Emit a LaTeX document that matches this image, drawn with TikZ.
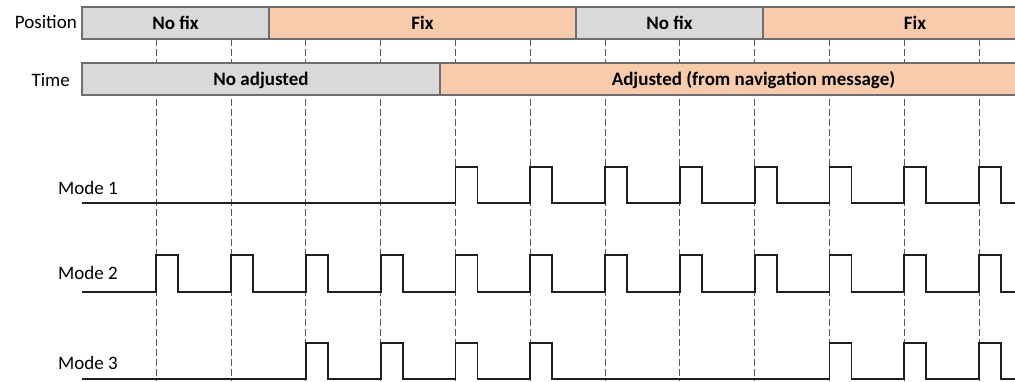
\documentclass[tikz,border=0pt]{standalone}
\usepackage{fontspec}
\setmainfont{Carlito}
\usetikzlibrary{positioning}
\definecolor{barGrey}{HTML}{D9D9D9}
\definecolor{barOrange}{HTML}{F8CBAD}
\definecolor{barEdge}{HTML}{6E6E6E}

\begin{document}
\begin{tikzpicture}
    [
        x=1pt, y=-1pt, font=\fontsize{19}{22}\selectfont,
        grey_bar/.style={rectangle, draw=barEdge, fill=barGrey, line width=1.3pt, outer sep=0pt, minimum height=32pt, text height=12.3pt, text depth=0pt, font=\fontsize{19}{22}\selectfont\bfseries},
        orange_bar/.style={grey_bar, fill=barOrange},
        row_label/.style={inner sep=0pt, anchor=base east},
        mode_label/.style={inner sep=0pt, anchor=base west},
        tick_line/.style={dash pattern=on 6.5pt off 3.5pt, color=black!65, line width=1pt},
        signal/.style={line width=1.8pt, color=black!88},
    ]
        \useasboundingbox (0,0) rectangle (1015,381) ;
        \clip (0,0) rectangle (1015,381) ;
        \foreach \k in {1,...,12}
            \draw[tick_line] ({156.3+74.8*(\k-1)},39) -- ({156.3+74.8*(\k-1)},381) ;
        \node[grey_bar, minimum width=187] (pos1) at (175.5,23) {No fix} ;
        \node[orange_bar, minimum width=307] (pos2) [right = 0pt of pos1] {Fix} ;
        \node[grey_bar, minimum width=187] (pos3) [right = 0pt of pos2] {No fix} ;
        \node[orange_bar, minimum width=304] (pos4) [right = 0pt of pos3] {Fix} ;
        \node[grey_bar, minimum width=358] (time1) at (261,79) {No adjusted} ;
        \node[orange_bar, minimum width=627] (time2) [right = 0pt of time1] {Adjusted (from navigation message)} ;
        \node[row_label] (position) at (77,28) {Position} ;
        \node[row_label] (time) at (70,86.5) {Time} ;
        \node[mode_label] (mode1) at (58,194) {Mode 1} ;
        \node[mode_label] (mode2) at (58,279.5) {Mode 2} ;
        \node[mode_label] (mode3) at (58,369) {Mode 3} ;
        \draw[signal] (82,203.3) foreach \k in {5,...,12} { -- ({156.3+74.8*(\k-1)},203.3) -- ++(0,-36.5) -- ++(22,0) -- ++(0,36.5) } -- (1016,203.3) ;
        \draw[signal] (82,291.7) foreach \k in {1,...,12} { -- ({156.3+74.8*(\k-1)},291.7) -- ++(0,-37) -- ++(22,0) -- ++(0,37) } -- (1016,291.7) ;
        \draw[signal] (82,379.3) foreach \k in {3,4,5,6,10,11,12} { -- ({156.3+74.8*(\k-1)},379.3) -- ++(0,-36.5) -- ++(22,0) -- ++(0,36.5) } -- (1016,379.3) ;
    \end{tikzpicture}
\end{document}
